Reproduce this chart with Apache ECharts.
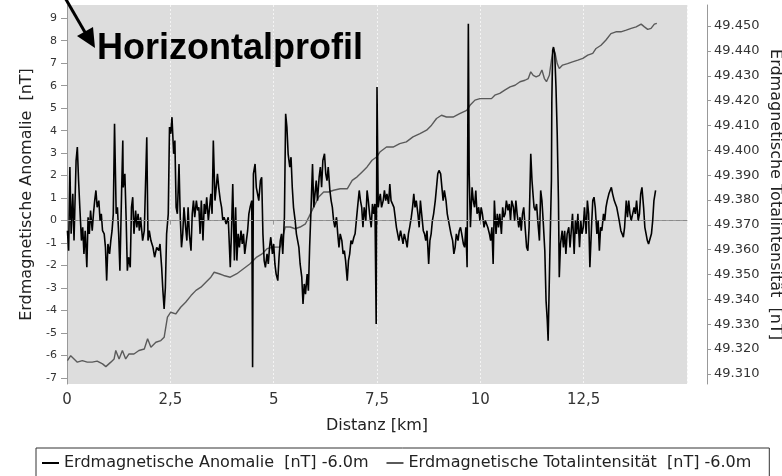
<!DOCTYPE html>
<html>
<head>
<meta charset="utf-8">
<script src="https://cdn.jsdelivr.net/npm/echarts@6/dist/echarts.min.js"></script>
<style>
  html, body { margin: 0; padding: 0; background: #fff; }
  #main { width: 782px; height: 476px; }
</style>
</head>
<body>
<div id="main"></div>
<script>
// Erdmagnetische Anomalie [nT]
var anomalyKm = [
  0.01,0.04,0.07,0.10,0.14,0.17,0.22,0.25,0.28,0.31,
  0.35,0.38,0.41,0.44,0.48,0.51,0.54,0.57,0.61,0.64,
  0.67,0.70,0.73,0.77,0.80,0.83,0.86,0.90,0.93,0.96,
  0.99,1.03,1.06,1.09,1.12,1.15,1.19,1.22,1.25,1.28,
  1.32,1.35,1.36,1.40,1.43,1.46,1.49,1.53,1.56,1.59,
  1.62,1.66,1.69,1.72,1.75,1.78,1.83,1.87,1.93,1.96,
  1.99,2.03,2.08,2.12,2.17,2.22,2.25,2.29,2.32,2.35,
  2.38,2.41,2.45,2.48,2.51,2.54,2.58,2.61,2.64,2.67,
  2.71,2.74,2.77,2.80,2.83,2.87,2.90,2.93,2.96,3.00,
  3.03,3.06,3.09,3.13,3.16,3.19,3.22,3.25,3.29,3.32,
  3.35,3.38,3.42,3.45,3.48,3.51,3.54,3.58,3.61,3.64,
  3.67,3.71,3.74,3.77,3.80,3.85,3.90,3.95,3.98,4.01,
  4.05,4.08,4.11,4.14,4.17,4.21,4.24,4.27,4.30,4.34,
  4.37,4.40,4.43,4.47,4.49,4.51,4.55,4.58,4.61,4.64,
  4.68,4.71,4.74,4.77,4.80,4.84,4.87,4.90,4.93,4.97,
  5.00,5.03,5.06,5.10,5.13,5.16,5.19,5.22,5.26,5.29,
  5.32,5.35,5.39,5.42,5.45,5.48,5.52,5.55,5.58,5.61,
  5.64,5.68,5.71,5.74,5.77,5.81,5.84,5.87,5.90,5.94,
  5.97,6.00,6.03,6.06,6.10,6.13,6.16,6.19,6.23,6.26,
  6.29,6.32,6.36,6.39,6.42,6.45,6.48,6.52,6.55,6.58,
  6.61,6.65,6.68,6.71,6.74,6.78,6.81,6.84,6.87,6.90,
  6.94,6.97,7.00,7.03,7.07,7.10,7.13,7.16,7.19,7.23,
  7.26,7.29,7.32,7.36,7.39,7.42,7.45,7.48,7.50,7.53,
  7.55,7.58,7.61,7.65,7.68,7.71,7.74,7.78,7.81,7.84,
  7.87,7.91,7.94,7.97,8.00,8.03,8.07,8.10,8.13,8.16,
  8.20,8.23,8.26,8.29,8.33,8.36,8.39,8.42,8.45,8.49,
  8.52,8.55,8.58,8.62,8.65,8.68,8.71,8.75,8.78,8.81,
  8.84,8.87,8.91,8.94,8.97,9.00,9.04,9.07,9.10,9.13,
  9.17,9.20,9.23,9.26,9.29,9.33,9.36,9.39,9.42,9.46,
  9.49,9.52,9.55,9.59,9.62,9.65,9.68,9.71,9.73,9.76,
  9.80,9.83,9.86,9.89,9.92,9.96,9.99,10.02,10.05,10.09,
  10.12,10.15,10.18,10.22,10.25,10.28,10.31,10.34,10.38,10.41,
  10.44,10.47,10.51,10.54,10.57,10.60,10.63,10.67,10.70,10.73,
  10.76,10.80,10.83,10.86,10.89,10.93,10.96,10.99,11.02,11.05,
  11.09,11.12,11.15,11.18,11.22,11.25,11.28,11.30,11.33,11.36,
  11.39,11.43,11.46,11.49,11.52,11.56,11.59,11.62,11.64,11.65,
  11.68,11.72,11.73,11.75,11.77,11.80,11.83,11.86,11.89,11.91,
  11.94,11.98,12.01,12.04,12.07,12.10,12.14,12.17,12.20,12.23,
  12.27,12.30,12.33,12.36,12.40,12.43,12.46,12.49,12.52,12.56,
  12.59,12.62,12.65,12.69,12.72,12.75,12.78,12.82,12.85,12.88,
  12.91,12.94,12.98,13.01,13.04,13.07,13.11,13.14,13.17,13.20,
  13.24,13.27,13.30,13.33,13.36,13.40,13.43,13.46,13.49,13.53,
  13.56,13.59,13.62,13.65,13.69,13.72,13.75,13.78,13.82,13.85,
  13.88,13.91,13.95,13.98,14.01,14.04,14.07,14.11,14.14,14.17,
  14.20,14.24
];
var anomalyNT = [
  -0.45,-1.34,2.38,-0.59,1.19,-0.89,2.67,3.27,1.78,0.59,
  -0.89,-0.30,-1.48,-0.45,-2.08,0.15,-0.59,0.45,-0.45,0.30,
  0.89,1.34,0.59,0.89,0,0.30,-0.45,-0.59,-1.19,-2.67,
  -1.04,-1.48,-0.89,-0.45,0.30,4.31,0.30,0.59,-0.59,-2.23,
  1.19,3.56,1.48,2.08,0.15,-2.23,-1.63,-2.08,0.59,1.04,
  -0.59,0.45,-0.30,0.30,-0.45,0.15,-0.89,-0.45,3.71,-0.89,
  -0.45,-0.89,-1.19,-1.63,-1.19,-1.34,-1.04,-2.08,-3.12,-3.93,
  -2.97,-0.59,0.30,4.16,3.86,4.60,2.97,3.56,0.59,0.30,
  2.52,0.15,-1.19,-0.59,0.59,-0.30,-0.89,0.59,-0.59,-1.34,
  0.30,0.89,0.15,0.89,0.45,0.59,-0.59,0.89,-0.89,0.74,
  0.30,1.04,0,0.59,1.19,0.30,3.56,0.89,1.48,2.08,
  1.48,0.89,0.59,0,0.15,-0.15,0.15,-2.08,-0.45,1.63,
  -1.78,0.59,-1.78,-0.59,-1.19,-0.45,-1.04,-0.59,-1.48,-0.89,
  -0.45,0.30,0.59,0.89,-6.53,2.08,2.52,1.48,1.19,0.89,
  1.78,1.93,-0.59,-1.78,-2.08,-1.48,-1.93,-1.19,-0.74,-1.48,
  -1.04,-1.93,-2.38,-2.67,-1.63,-0.89,-0.59,-1.48,0.15,4.75,
  4.16,2.97,2.38,2.82,1.48,0.59,0,-0.59,-0.89,-1.19,
  -1.93,-2.52,-3.71,-2.82,-3.27,-2.38,-3.12,-1.19,0.30,2.52,
  0.59,1.19,1.78,0.89,1.93,2.38,1.48,2.67,2.97,2.08,
  1.78,2.38,1.34,0.89,0.59,0,-0.30,0.15,-0.59,-1.19,
  -0.59,-0.89,-1.48,-1.34,-1.78,-2.67,-1.78,-1.48,-0.89,-1.04,
  -0.74,-0.59,0,0.59,1.34,0.89,0.59,-0.30,0.59,0,
  1.34,0.89,0.30,-0.30,0.74,0.30,0.74,-4.60,5.94,0.59,
  0.89,1.19,0.59,0.89,1.34,0.89,1.19,0.74,1.63,0.89,
  0.89,0.59,0.15,-0.30,-0.59,-0.89,-0.45,-0.74,-1.04,-0.59,
  -0.89,-1.19,-0.59,-0.30,0.15,0.59,1.19,0.59,0.89,0.30,
  -0.30,0.89,0.30,-0.45,-0.59,-0.89,-0.45,-1.93,-0.89,-0.59,
  0,0.30,0.89,1.48,2.08,2.23,2.08,1.48,0.89,1.34,
  0.89,0.30,0,-0.30,-0.59,-0.89,-1.48,-1.19,-0.59,-0.89,
  -0.45,-0.30,-0.59,-1.04,-1.19,-0.30,-2.08,8.76,2.08,-0.30,
  1.48,0.89,0.59,1.34,0.30,0.59,0,0.59,0.30,-0.30,
  0,-0.15,-0.30,-0.59,-0.89,-0.30,-1.93,0.89,-0.59,0.30,
  -0.30,0.30,-0.59,0.59,0.15,0.30,0.89,0.45,0.74,0,
  0.89,0.59,0,0.89,0.30,-0.30,0.15,-0.45,0.30,0.59,
  -0.45,-1.19,-1.34,-0.30,2.97,1.78,1.04,0.59,0.45,0.74,
  0,-0.89,1.34,0.89,0,-1.34,-3.56,-4.45,-5.35,-4.45,
  -1.63,1.78,5.35,7.57,7.72,7.42,5.94,3.86,0.89,-2.52,
  -1.04,-0.45,-1.19,-0.45,-1.48,-0.59,-0.30,-1.19,-0.45,0.30,
  -1.48,0,-0.59,0.30,-1.19,0,-0.59,-0.30,0.59,-0.59,
  0.89,0.30,-2.08,-0.30,0.89,1.04,0.59,-0.59,0,-1.34,
  -0.30,-0.45,0.30,0,0.59,0.89,1.19,1.34,1.48,1.19,
  0.89,0.74,0.59,0.30,0,-0.45,-0.59,-0.74,-0.30,0.89,
  0.15,0.89,0.30,0,0,0.59,0.30,0.89,0,0.30,
  1.19,1.48,0.59,-0.30,-0.59,-0.89,-1.04,-1.04,-0.59,0,
  0.89,1.34
];

// Erdmagnetische Totalintensität (right axis)
var totalKm = [
  0.01,0.09,0.17,0.25,0.37,0.49,0.61,0.73,0.86,0.94,
  1.06,1.14,1.18,1.26,1.34,1.42,1.50,1.62,1.74,1.87,
  1.95,2.03,2.15,2.27,2.35,2.43,2.51,2.63,2.75,2.87,
  3.00,3.12,3.24,3.36,3.48,3.56,3.68,3.79,3.95,4.11,
  4.27,4.43,4.59,4.72,4.84,5.00,5.16,5.28,5.40,5.52,
  5.64,5.77,5.85,5.97,6.09,6.21,6.33,6.45,6.61,6.78,
  6.90,7.02,7.14,7.26,7.38,7.49,7.57,7.73,7.89,8.05,
  8.21,8.37,8.54,8.70,8.82,8.94,9.06,9.18,9.34,9.50,
  9.67,9.75,9.87,9.99,10.15,10.27,10.35,10.47,10.59,10.72,
  10.84,10.96,11.08,11.16,11.22,11.28,11.35,11.43,11.49,11.55,
  11.60,11.67,11.72,11.77,11.81,11.86,11.91,11.99,12.11,12.23,
  12.36,12.48,12.60,12.72,12.80,12.92,13.04,13.16,13.28,13.40,
  13.53,13.65,13.77,13.89,13.97,14.05,14.13,14.21,14.27
];
var totalVal = [
  49.3153,49.3173,49.3160,49.3147,49.3153,49.3147,49.3147,49.3151,49.3140,49.3129,
  49.3147,49.3160,49.3194,49.3160,49.3194,49.3160,49.3180,49.3180,49.3194,49.3200,
  49.3241,49.3207,49.3227,49.3234,49.3247,49.3328,49.3348,49.3341,49.3368,49.3388,
  49.3415,49.3436,49.3449,49.3469,49.3489,49.3509,49.3503,49.3496,49.3489,49.3503,
  49.3523,49.3543,49.3570,49.3583,49.3604,49.3610,49.3610,49.3691,49.3691,49.3684,
  49.3691,49.3704,49.3731,49.3772,49.3812,49.3832,49.3832,49.3839,49.3845,49.3845,
  49.3879,49.3893,49.3913,49.3933,49.3960,49.3973,49.3993,49.4013,49.4013,49.4027,
  49.4034,49.4054,49.4067,49.4081,49.4101,49.4128,49.4141,49.4134,49.4134,49.4148,
  49.4161,49.4181,49.4202,49.4208,49.4208,49.4208,49.4222,49.4229,49.4242,49.4255,
  49.4262,49.4276,49.4282,49.4289,49.4316,49.4302,49.4296,49.4302,49.4323,49.4289,
  49.4276,49.4302,49.4363,49.4410,49.4390,49.4349,49.4329,49.4343,49.4349,49.4356,
  49.4363,49.4370,49.4383,49.4390,49.4410,49.4423,49.4444,49.4470,49.4477,49.4477,
  49.4484,49.4491,49.4497,49.4508,49.4497,49.4487,49.4491,49.4508,49.4511
];

var leftTicks = [-7,-6,-5,-4,-3,-2,-1,0,1,2,3,4,5,6,7,8,9];
var rightTicks = [49.31,49.32,49.33,49.34,49.35,49.36,49.37,49.38,49.39,49.40,49.41,49.42,49.43,49.44,49.45];

var nameAnomaly = 'Erdmagnetische Anomalie  [nT] -6.0m';
var nameTotal = 'Erdmagnetische Totalintensität  [nT] -6.0m';

function pairs(xs, ys) {
  var out = [];
  for (var i = 0; i < xs.length; i++) out.push([xs[i], ys[i]]);
  return out;
}

var FONT = '"DejaVu Sans", sans-serif';
var chart = echarts.init(document.getElementById('main'));

var option = {
  animation: false,
  backgroundColor: '#ffffff',
  grid: {
    left: 67, right: 95, top: 5, bottom: 92,
    containLabel: false, outerBoundsMode: 'none',
    show: true, backgroundColor: '#dddddd', borderWidth: 0
  },
  legend: {
    left: 36, top: 448,
    padding: [7, 18, 12, 6],
    borderColor: '#333', borderWidth: 1,
    icon: 'rect', itemWidth: 17, itemHeight: 2, itemGap: 18,
    textStyle: { fontFamily: FONT, fontSize: 16, color: '#222' },
    data: [nameAnomaly, nameTotal]
  },
  xAxis: {
    type: 'value', min: 0, max: 15, interval: 2.5,
    name: 'Distanz [km]', nameLocation: 'middle', nameGap: 34,
    nameTextStyle: { fontFamily: FONT, fontSize: 16, color: '#222' },
    axisLine: { lineStyle: { color: '#999' } },
    axisTick: { length: 4, lineStyle: { color: '#999' } },
    axisLabel: {
      showMaxLabel: false, fontFamily: FONT, fontSize: 15, color: '#333', margin: 9,
      formatter: function (v) { return String(v).replace('.', ','); }
    },
    splitLine: { show: true, lineStyle: { color: '#f4f4f4', type: [2, 2], width: 1 } }
  },
  yAxis: [
    {
      type: 'value', position: 'left', min: -7.27, max: 9.59,
      name: 'Erdmagnetische Anomalie  [nT]', nameLocation: 'middle', nameGap: 32, nameRotate: 90,
      nameTextStyle: { fontFamily: FONT, fontSize: 16, color: '#222' },
      axisLine: { show: true, lineStyle: { color: '#999' } },
      axisTick: { show: true, length: 6, customValues: leftTicks, lineStyle: { color: '#999' } },
      axisLabel: { customValues: leftTicks, fontFamily: FONT, fontSize: 11, color: '#333', margin: 10 },
      splitLine: { show: false }
    },
    {
      type: 'value', position: 'right', offset: 20, min: 49.3059, max: 49.4585,
      name: 'Erdmagnetische Totalintensität  [nT]', nameLocation: 'middle', nameGap: 60, nameRotate: -90,
      nameMoveOverlap: false,
      nameTextStyle: { fontFamily: FONT, fontSize: 16, color: '#222' },
      axisLine: { show: true, lineStyle: { color: '#999' } },
      axisTick: { show: true, length: 4, customValues: rightTicks, lineStyle: { color: '#999' } },
      axisLabel: {
        customValues: rightTicks, fontFamily: FONT, fontSize: 13, color: '#333', margin: 7,
        formatter: function (v) { return v.toFixed(3); }
      },
      splitLine: { show: false }
    }
  ],
  series: [
    {
      name: nameTotal, type: 'line', yAxisIndex: 1,
      data: pairs(totalKm, totalVal),
      symbol: 'none', color: '#5a5a5a',
      lineStyle: { width: 1.4, color: '#5a5a5a' }
    },
    {
      name: nameAnomaly, type: 'line', yAxisIndex: 0,
      data: pairs(anomalyKm, anomalyNT),
      symbol: 'none', color: '#000',
      lineStyle: { width: 1.6, color: '#000' },
      markLine: {
        silent: true, symbol: ['none', 'none'], label: { show: false },
        lineStyle: { color: '#8a8a8a', type: [4, 3], width: 1 },
        data: [{ yAxis: 0 }]
      }
    }
  ],
  graphic: [
    { type: 'line', z: 100, shape: { x1: 64, y1: -4, x2: 86, y2: 34 }, style: { stroke: '#000', lineWidth: 3 } },
    { type: 'polygon', z: 100, shape: { points: [[77, 36], [93, 27], [95, 48]] }, style: { fill: '#000' } },
    {
      type: 'text', z: 100, left: 97, top: 31,
      style: { text: 'Horizontalprofil', font: 'bold 36px "Liberation Sans", Arial, sans-serif', fill: '#000' }
    }
  ]
};

chart.setOption(option);
</script>
</body>
</html>
